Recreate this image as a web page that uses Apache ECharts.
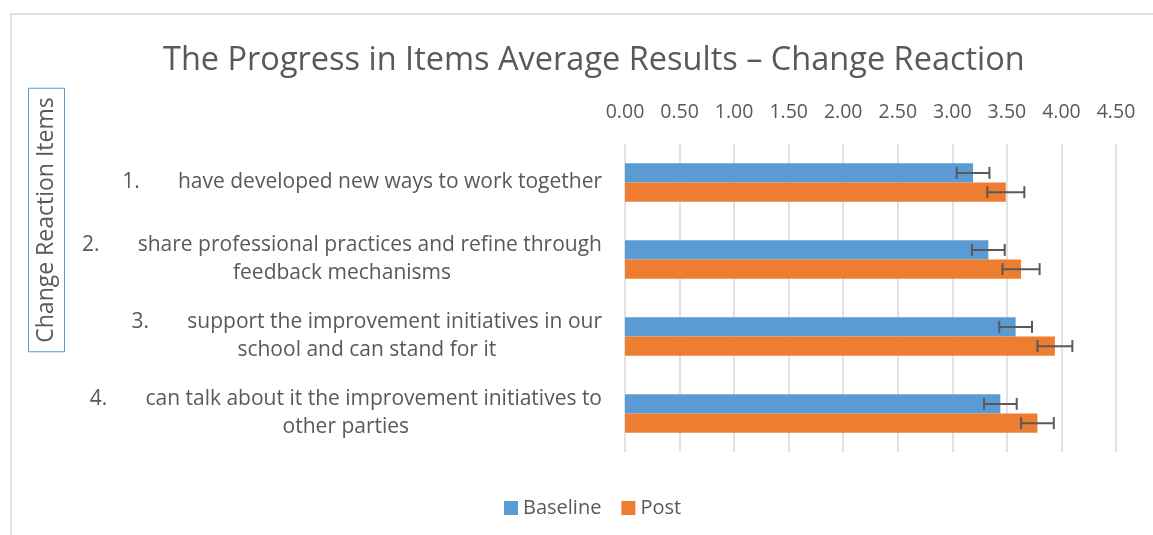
<!DOCTYPE html>
<html>
<head>
<meta charset="utf-8">
<script src="https://cdn.jsdelivr.net/npm/echarts@6/dist/echarts.min.js"></script>
<style>
  html, body { margin: 0; padding: 0; background: #fff; }
</style>
</head>
<body>
<div id="chart" style="width: 1153px; height: 535px"></div>
<script>
var categories = [
  "1.       have developed new ways to work together",
  "2.       share professional practices and refine through\nfeedback mechanisms",
  "3.       support the improvement initiatives in our\nschool and can stand for it",
  "4.       can talk about it the improvement initiatives to\nother parties"
];
var baseline = [3.19, 3.33, 3.58, 3.44];
var baselineErr = [0.15, 0.15, 0.15, 0.15];
var post = [3.49, 3.63, 3.94, 3.78];
var postErr = [0.17, 0.17, 0.16, 0.15];
var xTicks = { min: 0, max: 4.5, interval: 0.5 };

var font = "'Open Sans', Lato, sans-serif";
var grey = "#595959";

// error bar data: [low, high, categoryIndex]
function errData(vals, errs) {
  var out = [];
  for (var i = 0; i < vals.length; i++) {
    out.push([vals[i] - errs[i], vals[i] + errs[i], i]);
  }
  return out;
}

// shift = -1 for the upper bar (Baseline), +1 for the lower bar (Post)
function errRenderer(shift) {
  return function (params, api) {
    var lo = api.coord([api.value(0), api.value(2)]);
    var hi = api.coord([api.value(1), api.value(2)]);
    var band = api.size([0, 1])[1];
    var y = lo[1] + shift * band * 0.125;
    var cap = 6;
    var st = { stroke: grey, lineWidth: 2 };
    return {
      type: "group",
      children: [
        { type: "line", shape: { x1: lo[0], y1: y, x2: hi[0], y2: y }, style: st },
        { type: "line", shape: { x1: lo[0], y1: y - cap, x2: lo[0], y2: y + cap }, style: st },
        { type: "line", shape: { x1: hi[0], y1: y - cap, x2: hi[0], y2: y + cap }, style: st }
      ]
    };
  };
}

var chart = echarts.init(document.getElementById("chart"));
var option = {
  animation: false,
  textStyle: { fontFamily: font },
  title: {
    text: "The Progress in Items Average Results \u2013 Change Reaction",
    left: 158,
    top: 39,
    textStyle: { fontFamily: font, fontSize: 32.5, fontWeight: "normal", color: grey }
  },
  graphic: [
    {
      type: "rect",
      silent: true,
      shape: { x: 11, y: 14, width: 1300, height: 700 },
      style: { fill: null, stroke: "#d9d9d9", lineWidth: 1.5 }
    },
    {
      type: "text",
      silent: true,
      x: 46.5,
      y: 220,
      rotation: Math.PI / 2,
      style: {
        text: "Change Reaction Items",
        font: "23px " + font,
        fill: grey,
        align: "center",
        verticalAlign: "middle",
        borderColor: "#5b9bd5",
        borderWidth: 1,
        padding: [7, 9, 6, 9]
      }
    }
  ],
  legend: {
    data: ["Baseline", "Post"],
    left: 499,
    top: 493,
    icon: "rect",
    itemWidth: 14,
    itemHeight: 14,
    itemGap: 20,
    textStyle: { fontFamily: font, fontSize: 20, color: grey }
  },
  grid: {
    left: 625,
    right: 37,
    top: 144,
    bottom: 83
  },
  xAxis: {
    type: "value",
    position: "top",
    min: xTicks.min,
    max: xTicks.max,
    interval: xTicks.interval,
    axisLine: { show: false },
    axisTick: { show: false },
    axisLabel: {
      margin: 22,
      fontSize: 19.5,
      color: grey,
      formatter: function (v) { return v.toFixed(2); }
    },
    splitLine: { lineStyle: { color: "#d9d9d9", width: 1.5 } }
  },
  yAxis: {
    type: "category",
    data: categories,
    inverse: true,
    axisLine: { show: false },
    axisTick: { show: false },
    axisLabel: {
      margin: 23,
      color: grey,
      formatter: function (v) {
        return v.split("\n").map(function (l) { return "{c|" + l + "}"; }).join("\n");
      },
      rich: {
        c: { align: "center", fontSize: 21, lineHeight: 28, color: grey, fontFamily: font }
      }
    }
  },
  series: [
    {
      name: "Baseline",
      type: "bar",
      data: baseline,
      barGap: "0%",
      barCategoryGap: "50%",
      itemStyle: { color: "#5b9bd5" }
    },
    {
      name: "Post",
      type: "bar",
      data: post,
      itemStyle: { color: "#ed7d31" }
    },
    {
      name: "Baseline error",
      type: "custom",
      renderItem: errRenderer(-1),
      encode: { x: [0, 1], y: 2 },
      data: errData(baseline, baselineErr),
      z: 10
    },
    {
      name: "Post error",
      type: "custom",
      renderItem: errRenderer(1),
      encode: { x: [0, 1], y: 2 },
      data: errData(post, postErr),
      z: 10
    }
  ]
};
chart.setOption(option);
</script>
</body>
</html>
